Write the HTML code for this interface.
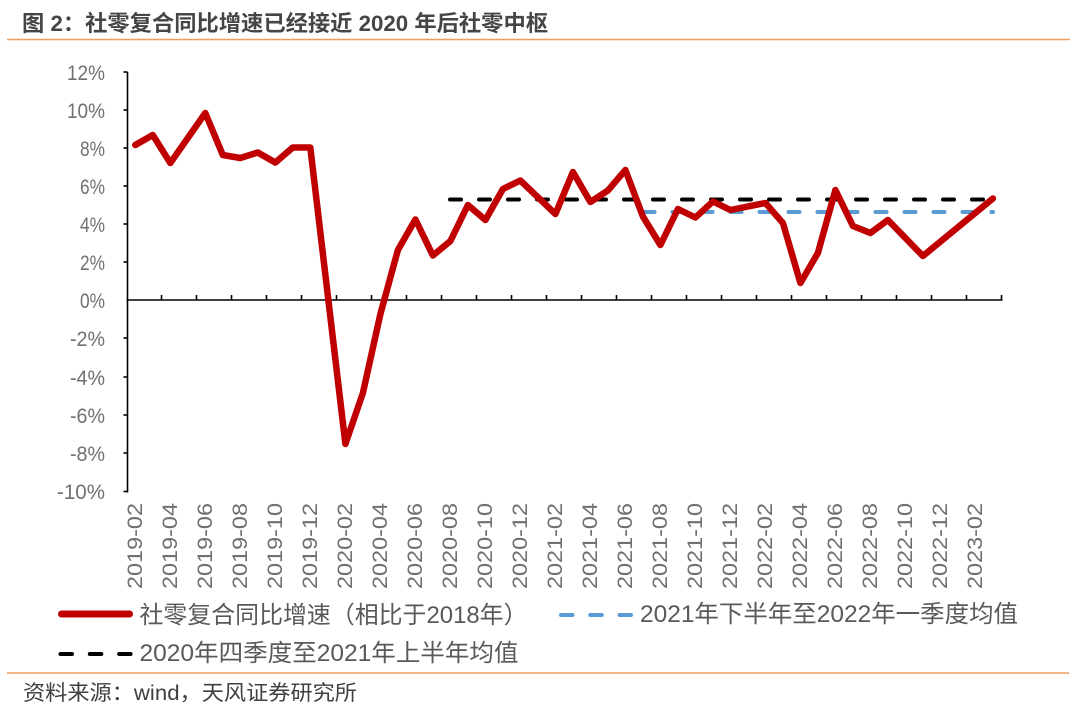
<!DOCTYPE html>
<html>
<head>
<meta charset="utf-8">
<style>
html,body{margin:0;padding:0;background:#fff;}
svg{display:block;}
text{font-family:"Liberation Sans","Noto Sans CJK SC",sans-serif;}
</style>
</head>
<body>
<svg width="1080" height="710" viewBox="0 0 1080 710" xmlns="http://www.w3.org/2000/svg">
<rect width="1080" height="710" fill="#fff"/>
<!-- title -->
<text x="22" y="31" font-size="22" font-weight="bold" fill="#454545" textLength="526" lengthAdjust="spacingAndGlyphs">图 2：社零复合同比增速已经接近 2020 年后社零中枢</text>
<line x1="7" y1="39.5" x2="1070" y2="39.5" stroke="#EE9E5E" stroke-width="1.5"/>

<!-- y axis labels -->
<g font-size="21" fill="#707070" text-anchor="end">
<text x="105" y="80" textLength="38" lengthAdjust="spacingAndGlyphs">12%</text>
<text x="105" y="118" textLength="38" lengthAdjust="spacingAndGlyphs">10%</text>
<text x="105" y="156" textLength="25" lengthAdjust="spacingAndGlyphs">8%</text>
<text x="105" y="194" textLength="25" lengthAdjust="spacingAndGlyphs">6%</text>
<text x="105" y="232" textLength="25" lengthAdjust="spacingAndGlyphs">4%</text>
<text x="105" y="270" textLength="25" lengthAdjust="spacingAndGlyphs">2%</text>
<text x="105" y="308" textLength="25" lengthAdjust="spacingAndGlyphs">0%</text>
<text x="105" y="346" textLength="35" lengthAdjust="spacingAndGlyphs">-2%</text>
<text x="105" y="385" textLength="35" lengthAdjust="spacingAndGlyphs">-4%</text>
<text x="105" y="423" textLength="35" lengthAdjust="spacingAndGlyphs">-6%</text>
<text x="105" y="461" textLength="35" lengthAdjust="spacingAndGlyphs">-8%</text>
<text x="105" y="499" textLength="48" lengthAdjust="spacingAndGlyphs">-10%</text>
</g>

<!-- axes -->
<g stroke="#000" stroke-width="1.6" fill="none">
<line x1="127.5" y1="72" x2="127.5" y2="492.5"/>
<line x1="123.5" y1="72" x2="127.5" y2="72"/>
<line x1="123.5" y1="110" x2="127.5" y2="110"/>
<line x1="123.5" y1="148" x2="127.5" y2="148"/>
<line x1="123.5" y1="186" x2="127.5" y2="186"/>
<line x1="123.5" y1="224" x2="127.5" y2="224"/>
<line x1="123.5" y1="262" x2="127.5" y2="262"/>
<line x1="123.5" y1="338" x2="127.5" y2="338"/>
<line x1="123.5" y1="377" x2="127.5" y2="377"/>
<line x1="123.5" y1="415" x2="127.5" y2="415"/>
<line x1="123.5" y1="453" x2="127.5" y2="453"/>
<line x1="123.5" y1="491.5" x2="127.5" y2="491.5"/>
<line x1="126.5" y1="300" x2="1002.5" y2="300"/>
<path d="M161.5 295V300M196.5 295V300M231.5 295V300M266.5 295V300M301.5 295V300M336.5 295V300M371.5 295V300M406.5 295V300M441.5 295V300M476.5 295V300M511.5 295V300M546.5 295V300M581.5 295V300M616.5 295V300M651.5 295V300M686.5 295V300M721.5 295V300M756.5 295V300M791.5 295V300M826.5 295V300M861.5 295V300M896.5 295V300M931.5 295V300M966.5 295V300M1001.5 295V300"/>
</g>

<!-- x labels -->
<g font-size="21" fill="#707070" text-anchor="end">
<text transform="translate(142,503) rotate(-90)" textLength="86" lengthAdjust="spacingAndGlyphs">2019-02</text>
<text transform="translate(177,503) rotate(-90)" textLength="86" lengthAdjust="spacingAndGlyphs">2019-04</text>
<text transform="translate(212,503) rotate(-90)" textLength="86" lengthAdjust="spacingAndGlyphs">2019-06</text>
<text transform="translate(247,503) rotate(-90)" textLength="86" lengthAdjust="spacingAndGlyphs">2019-08</text>
<text transform="translate(282,503) rotate(-90)" textLength="86" lengthAdjust="spacingAndGlyphs">2019-10</text>
<text transform="translate(317,503) rotate(-90)" textLength="86" lengthAdjust="spacingAndGlyphs">2019-12</text>
<text transform="translate(352,503) rotate(-90)" textLength="86" lengthAdjust="spacingAndGlyphs">2020-02</text>
<text transform="translate(387,503) rotate(-90)" textLength="86" lengthAdjust="spacingAndGlyphs">2020-04</text>
<text transform="translate(422,503) rotate(-90)" textLength="86" lengthAdjust="spacingAndGlyphs">2020-06</text>
<text transform="translate(457,503) rotate(-90)" textLength="86" lengthAdjust="spacingAndGlyphs">2020-08</text>
<text transform="translate(492,503) rotate(-90)" textLength="86" lengthAdjust="spacingAndGlyphs">2020-10</text>
<text transform="translate(527,503) rotate(-90)" textLength="86" lengthAdjust="spacingAndGlyphs">2020-12</text>
<text transform="translate(562,503) rotate(-90)" textLength="86" lengthAdjust="spacingAndGlyphs">2021-02</text>
<text transform="translate(597,503) rotate(-90)" textLength="86" lengthAdjust="spacingAndGlyphs">2021-04</text>
<text transform="translate(632,503) rotate(-90)" textLength="86" lengthAdjust="spacingAndGlyphs">2021-06</text>
<text transform="translate(667,503) rotate(-90)" textLength="86" lengthAdjust="spacingAndGlyphs">2021-08</text>
<text transform="translate(702,503) rotate(-90)" textLength="86" lengthAdjust="spacingAndGlyphs">2021-10</text>
<text transform="translate(737,503) rotate(-90)" textLength="86" lengthAdjust="spacingAndGlyphs">2021-12</text>
<text transform="translate(772,503) rotate(-90)" textLength="86" lengthAdjust="spacingAndGlyphs">2022-02</text>
<text transform="translate(807,503) rotate(-90)" textLength="86" lengthAdjust="spacingAndGlyphs">2022-04</text>
<text transform="translate(842,503) rotate(-90)" textLength="86" lengthAdjust="spacingAndGlyphs">2022-06</text>
<text transform="translate(877,503) rotate(-90)" textLength="86" lengthAdjust="spacingAndGlyphs">2022-08</text>
<text transform="translate(912,503) rotate(-90)" textLength="86" lengthAdjust="spacingAndGlyphs">2022-10</text>
<text transform="translate(947,503) rotate(-90)" textLength="86" lengthAdjust="spacingAndGlyphs">2022-12</text>
<text transform="translate(982,503) rotate(-90)" textLength="86" lengthAdjust="spacingAndGlyphs">2023-02</text>
</g>

<!-- dashed averages -->
<line x1="450" y1="199.5" x2="991" y2="199.5" stroke="#000" stroke-width="4" stroke-linecap="round" stroke-dasharray="11 18"/>
<line x1="643.5" y1="212" x2="993" y2="212" stroke="#5B9BD5" stroke-width="4" stroke-linecap="round" stroke-dasharray="11 18"/>

<!-- main series -->
<polyline fill="none" stroke="#C00000" stroke-width="6.5" stroke-linejoin="round" stroke-linecap="round"
points="135.3,145 152.8,135 170.3,163 187.8,138 205.3,113 222.8,155 240.3,158 257.8,152.5 275.3,162.5 292.8,147.5 310.3,147.5 345.4,444 362.9,393 380.4,314 397.9,250 415.4,219.5 432.9,255.5 450.4,241 467.9,205 485.4,220 502.9,189 520.4,180.5 555.4,214 572.9,172 590.4,202 607.9,190.5 625.4,170 642.9,216.5 660.4,245 677.9,209 695.4,217.5 712.9,201.5 730.4,210 765.4,203 782.9,223 800.4,283 817.9,253 835.4,190 852.9,226 870.4,233 887.9,220 905.4,238 922.9,256 992.9,198.5"/>

<!-- legend -->
<line x1="61.5" y1="614" x2="129.5" y2="614" stroke="#C00000" stroke-width="7" stroke-linecap="round"/>
<text x="139.5" y="623" font-size="24" fill="#595959" textLength="388" lengthAdjust="spacingAndGlyphs">社零复合同比增速（相比于2018年）</text>
<line x1="561" y1="615" x2="631" y2="615" stroke="#5B9BD5" stroke-width="4" stroke-linecap="round" stroke-dasharray="11.5 17.8"/>
<text x="640" y="622" font-size="24" fill="#595959" textLength="378" lengthAdjust="spacingAndGlyphs">2021年下半年至2022年一季度均值</text>
<line x1="60.5" y1="654" x2="131" y2="654" stroke="#000" stroke-width="4" stroke-linecap="round" stroke-dasharray="11.5 17.8"/>
<text x="139.5" y="661" font-size="24" fill="#595959" textLength="379" lengthAdjust="spacingAndGlyphs">2020年四季度至2021年上半年均值</text>

<line x1="7" y1="673" x2="1069" y2="673" stroke="#EE9E5E" stroke-width="1.5"/>
<text x="23" y="700" font-size="21" fill="#404040" textLength="334" lengthAdjust="spacingAndGlyphs">资料来源：wind，天风证券研究所</text>
</svg>
</body>
</html>
